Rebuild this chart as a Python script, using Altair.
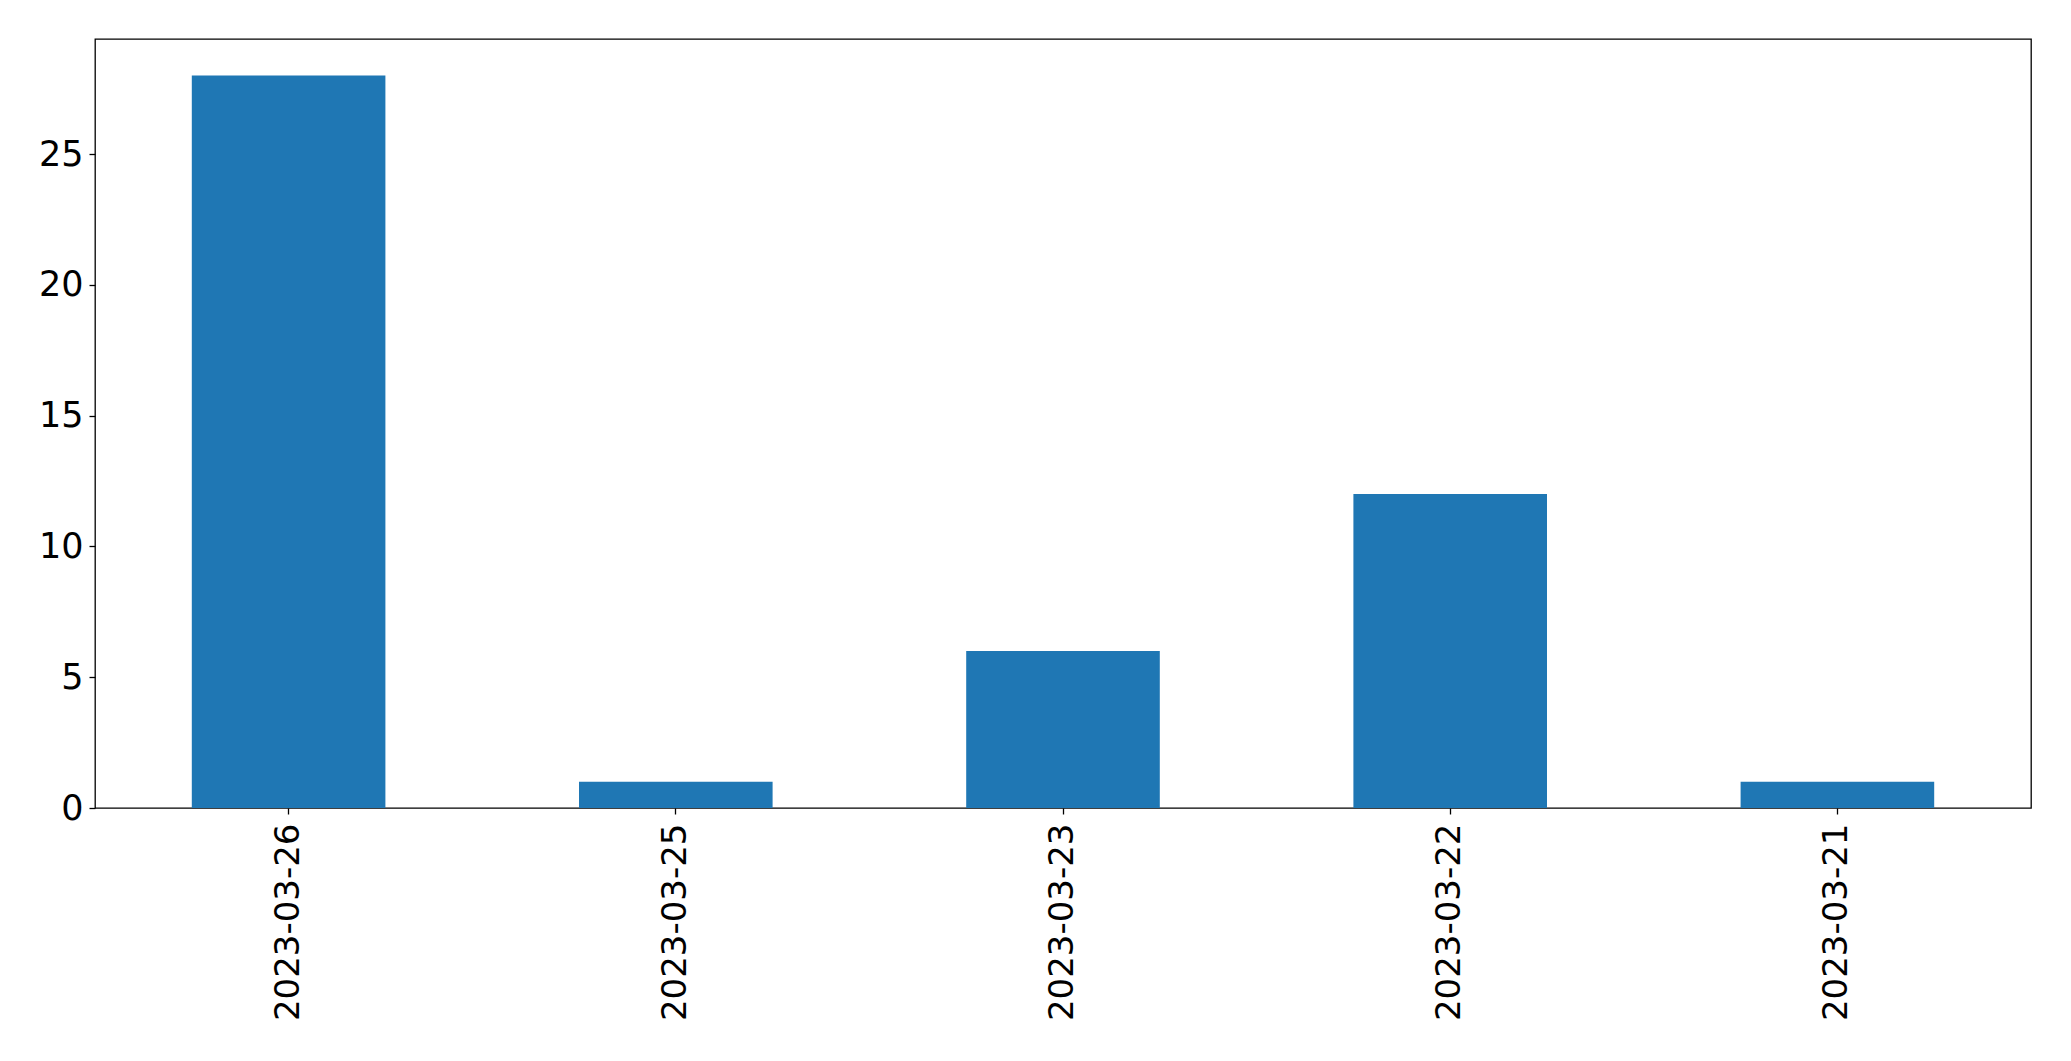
import altair as alt
import pandas as pd

dates = ["2023-03-26", "2023-03-25", "2023-03-23", "2023-03-22", "2023-03-21"]
counts = [28, 1, 6, 12, 1]

df = pd.DataFrame({"date": dates, "count": counts})

FONT = "DejaVu Sans"

chart = alt.Chart(df).mark_bar(color="#1f77b4").encode(
    x=alt.X(
        "date:N",
        sort=dates,
        title=None,
        scale=alt.Scale(paddingInner=0.5, paddingOuter=0.25),
        axis=alt.Axis(
            labelAngle=-90,
            labelAlign="right",
            labelBaseline="middle",
            labelFontSize=34,
            labelFont=FONT,
            labelColor="black",
            labelPadding=9,
            labelLimit=1000,
            tickSize=6,
            tickColor="black",
            tickWidth=1.3,
            domain=False,
            grid=False,
        ),
    ),
    y=alt.Y(
        "count:Q",
        title=None,
        scale=alt.Scale(domain=[0, 29.4], nice=False, zero=True),
        axis=alt.Axis(
            values=[0, 5, 10, 15, 20, 25],
            labelFontSize=35,
            labelFont=FONT,
            labelColor="black",
            labelPadding=6,
            tickSize=6,
            tickColor="black",
            tickWidth=1.3,
            domain=False,
            grid=False,
        ),
    ),
).properties(
    width=1936,
    height=769,
    autosize=alt.AutoSizeParams(type="none"),
    padding={"left": 87, "top": 31, "right": 30, "bottom": 245},
    background="white",
).configure_view(
    stroke="black",
    strokeWidth=1.3,
)

chart.save("out.html", embed_options={"renderer": "svg", "actions": False})
